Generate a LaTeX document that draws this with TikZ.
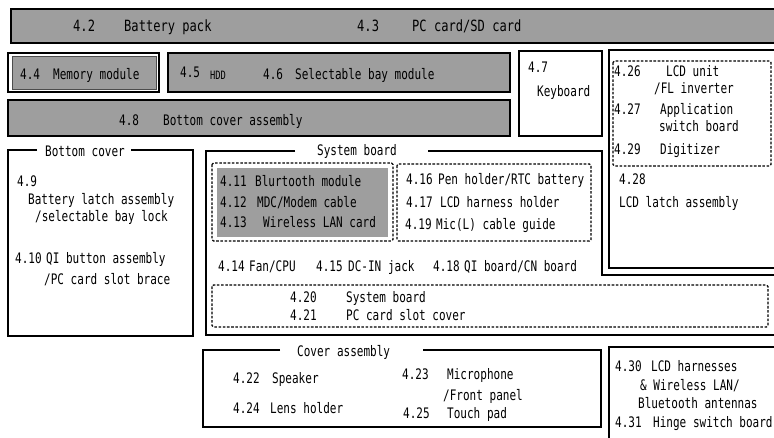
\documentclass[tikz,border=0pt]{standalone}
\usepackage{fontspec}
\newfontfamily\monoA[FakeStretch=0.76]{DejaVu Sans Mono}
\newfontfamily\monoB[FakeStretch=0.78]{DejaVu Sans Mono}
\definecolor{boxgray}{RGB}{158,158,158}
\begin{document}
\begin{tikzpicture}[x=1pt,y=-1pt,
 txt/.style={anchor=base west,inner sep=0pt,font=\monoA\fontsize{14.5}{17}\selectfont},
 big/.style={anchor=base west,inner sep=0pt,font=\monoB\fontsize{15.5}{18}\selectfont},
 small/.style={anchor=base west,inner sep=0pt,font=\monoA\fontsize{11.5}{13}\selectfont},
 frame/.style={draw=black,line width=1.4pt},
 grayframe/.style={frame,fill=boxgray},
 dashbox/.style={draw=black,line width=1.3pt,dash pattern=on 2.6pt off 1.6pt,rounded corners=1.5pt}]
\useasboundingbox (0,0) rectangle (774,438);

% ---- boxes ----
\draw[grayframe] (11,9) rectangle (778,43);
\draw[frame,fill=white] (8,53) rectangle (159,92);
\draw[draw=black!70,line width=0.8pt,fill=boxgray] (12,56.5) rectangle (156,89);
\draw[grayframe] (168,53) rectangle (510,92);
\draw[grayframe] (8,100) rectangle (510,136);
\draw[frame] (519,51) rectangle (602,136);
\draw[frame] (609,50) rectangle (778,268);
\draw[dashbox] (613,61) rectangle (771,166);
\draw[frame] (37,150) -- (8,150) -- (8,336) -- (193,336) -- (193,150) -- (131,150);
\draw[frame] (295,151) -- (206,151) -- (206,335) -- (778,335);
\draw[frame] (428,151) -- (602,151) -- (602,275) -- (778,275);
\fill[boxgray] (217,168) rectangle (388,237);
\draw[dashbox] (212,163) rectangle (393,241);
\draw[dashbox] (397,164) rectangle (591,241);
\draw[dashbox] (212,285) rectangle (768,327);
\draw[frame] (280,350) -- (203,350) -- (203,427) -- (601,427) -- (601,350) -- (423,350);
\draw[frame] (609,347) rectangle (778,442);

% ---- row 1 ----
\node[big] (n42) at (73,32) {4.2};
\node[big] (bp) at (124,32) {Battery pack};
\node[big] (n43) at (357,32) {4.3};
\node[big] (pc) at (412,32) {PC card/SD card};

% ---- row 2 ----
\node[txt] (n44) at (20,80) {4.4};
\node[txt] (mem) at (53,80) {Memory module};
\node[txt] (n45) at (180,78) {4.5};
\node[small] (hdd) at (210,80) {HDD};
\node[txt] (n46) at (263,80) {4.6};
\node[txt] (sel) at (295,80) {Selectable bay module};
\node[txt] (n47) at (528,73) {4.7};
\node[txt] (kb) at (537,97) {Keyboard};

% ---- LCD ----
\node[txt] (n426) at (614,77) {4.26};
\node[txt] (lcdu) at (666,77) {LCD unit};
\node[txt] (fl) at (654,94) {/FL inverter};
\node[txt] (n427) at (614,115) {4.27};
\node[txt] (app) at (660,115) {Application};
\node[txt] (sw) at (659,132) {switch board};
\node[txt] (n429) at (614,155) {4.29};
\node[txt] (dig) at (660,155) {Digitizer};
\node[txt] (n428) at (619,185) {4.28};
\node[txt] (latch) at (619,208) {LCD latch assembly};

% ---- row 3 ----
\node[txt] (n48) at (119,126) {4.8};
\node[txt] (bca) at (163,126) {Bottom cover assembly};

% ---- bottom cover ----
\node[txt] (bct) at (45,157) {Bottom cover};
\node[txt] (n49) at (17,187) {4.9};
\node[txt] (bla) at (28,205) {Battery latch assembly};
\node[txt] (sbl) at (35,222) {/selectable bay lock};
\node[txt] (n410) at (15,264) {4.10};
\node[txt] (qib) at (46,264) {QI button assembly};
\node[txt] (pcb) at (44,285) {/PC card slot brace};

% ---- system board ----
\node[txt] (sbt) at (317,156) {System board};
\node[txt] (n411) at (220,187) {4.11};
\node[txt] (blu) at (255,187) {Blurtooth module};
\node[txt] (n412) at (220,208) {4.12};
\node[txt] (mdc) at (257,208) {MDC/Modem cable};
\node[txt] (n413) at (220,228) {4.13};
\node[txt] (wlan) at (263,228) {Wireless LAN card};
\node[txt] (n416) at (406,185) {4.16};
\node[txt] (pen) at (438,185) {Pen holder/RTC battery};
\node[txt] (n417) at (406,208) {4.17};
\node[txt] (lhh) at (440,208) {LCD harness holder};
\node[txt] (n419) at (405,230) {4.19};
\node[txt] (mic) at (436,230) {Mic(L) cable guide};
\node[txt] (n414) at (218,272) {4.14};
\node[txt] (fan) at (249,272) {Fan/CPU};
\node[txt] (n415) at (316,272) {4.15};
\node[txt] (dc) at (348,272) {DC-IN jack};
\node[txt] (n418) at (433,272) {4.18};
\node[txt] (qi) at (464,272) {QI board/CN board};
\node[txt] (n420) at (290,303) {4.20};
\node[txt] (sb2) at (346,303) {System board};
\node[txt] (n421) at (290,321) {4.21};
\node[txt] (pcs) at (346,321) {PC card slot cover};

% ---- cover assembly ----
\node[txt] (cat) at (297,357) {Cover assembly};
\node[txt] (n422) at (233,383) {4.22};
\node[txt] (spk) at (272,383) {Speaker};
\node[txt] (n423) at (402,380) {4.23};
\node[txt] (mph) at (447,380) {Microphone};
\node[txt] (fp) at (443,400) {/Front panel};
\node[txt] (n424) at (233,413) {4.24};
\node[txt] (lens) at (270,413) {Lens holder};
\node[txt] (n425) at (403,418) {4.25};
\node[txt] (tp) at (447,418) {Touch pad};

% ---- LCD harnesses ----
\node[txt] (n430) at (615,372) {4.30};
\node[txt] (lh) at (651,372) {LCD harnesses};
\node[txt] (wl) at (640,390) {\& Wireless LAN/};
\node[txt] (bt) at (638,408) {Bluetooth antennas};
\node[txt] (n431) at (615,427) {4.31};
\node[txt] (hsb) at (653,427) {Hinge switch board};
\end{tikzpicture}
\end{document}
